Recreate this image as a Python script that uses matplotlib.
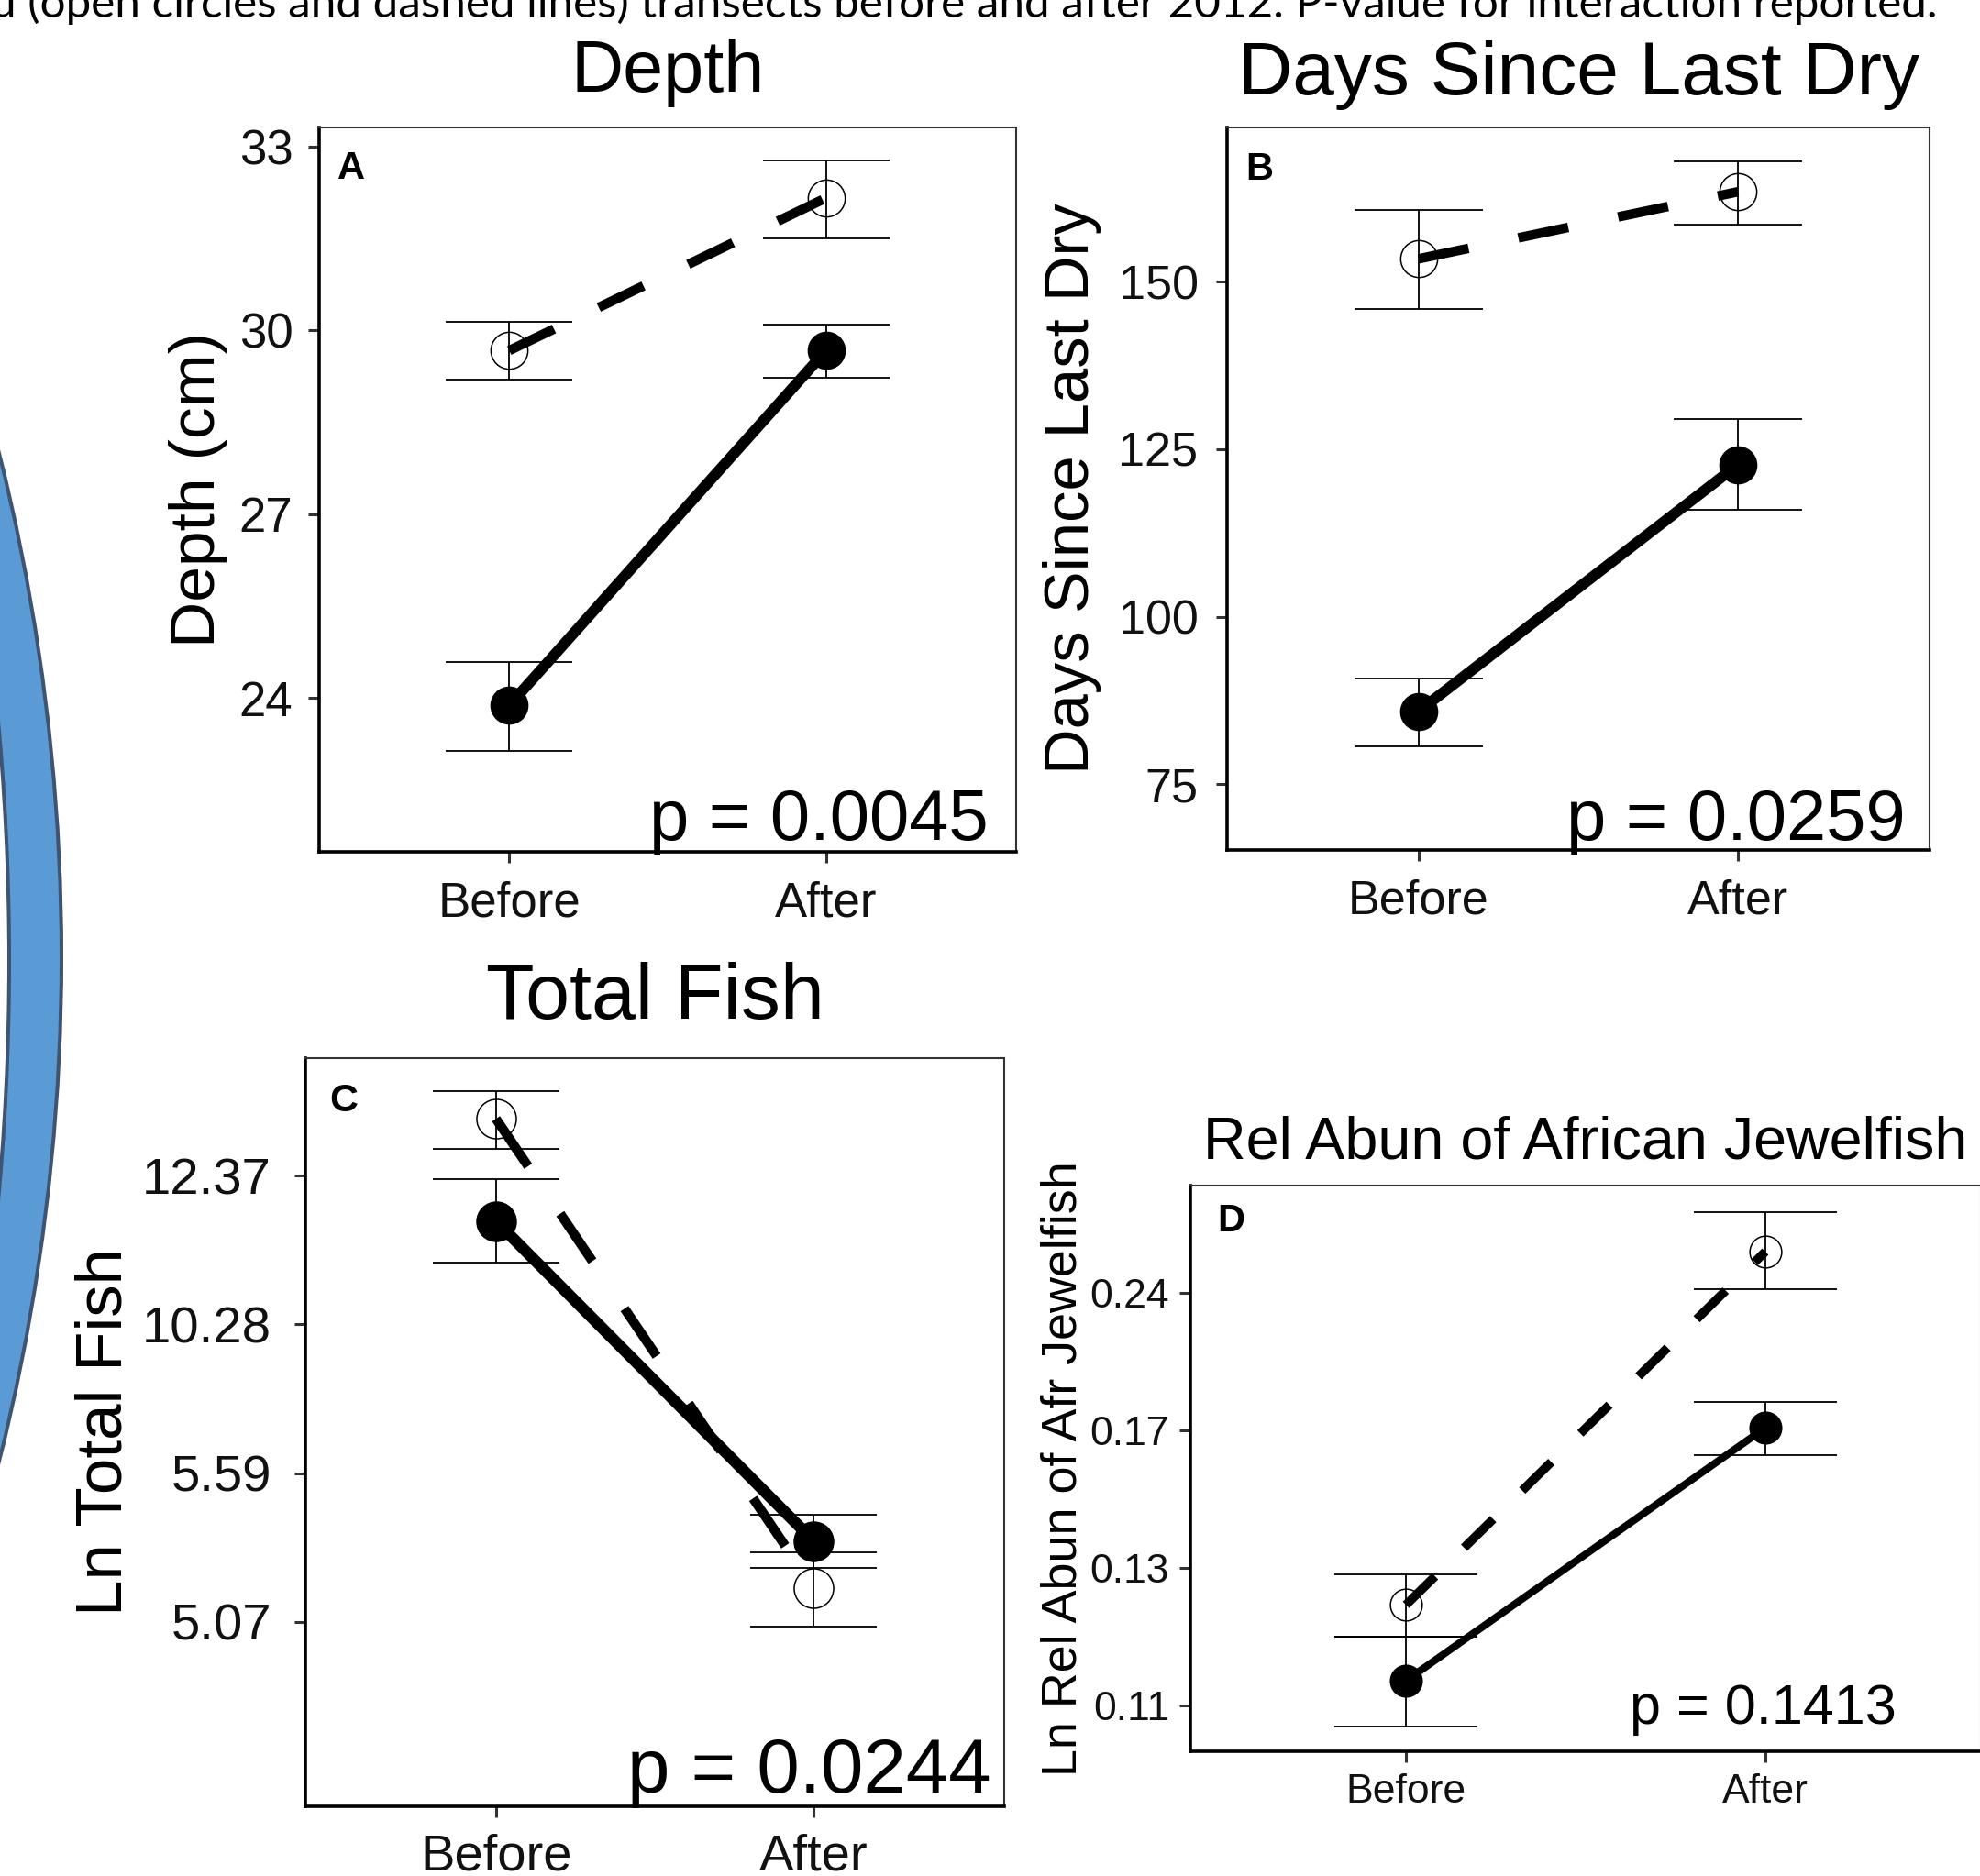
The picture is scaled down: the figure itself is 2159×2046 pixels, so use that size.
import matplotlib
matplotlib.use("Agg")
import matplotlib.pyplot as plt
from matplotlib.patches import Circle
import numpy as np

plt.rcParams["font.family"] = ["Liberation Sans", "DejaVu Sans"]
plt.rcParams["lines.scale_dashes"] = False

W, H, DPI = 2159, 2046, 100

caption = ("d (open circles and dashed lines) transects before and after 2012. "
           "P-value for interaction reported.")
periods = ["Before", "After"]

# A - depth (cm)
depth_solid = [23.88, 29.67]
depth_solid_lo = [23.14, 29.23]
depth_solid_hi = [24.58, 30.10]
depth_open = [29.67, 32.16]
depth_open_lo = [29.19, 31.50]
depth_open_hi = [30.14, 32.77]
depth_ticks = [24, 27, 30, 33]

# B - days since last dry
dry_solid = [85.9, 122.7]
dry_solid_lo = [80.6, 116.0]
dry_solid_hi = [90.8, 129.5]
dry_open = [153.4, 163.4]
dry_open_lo = [145.9, 158.5]
dry_open_hi = [160.7, 167.9]
dry_ticks = [75, 100, 125, 150]

# C - total fish (values in tick units, labels back-transformed)
fish_tick_labels = ["5.07", "5.59", "10.28", "12.37"]
fish_solid = [2.694, 0.544]
fish_solid_lo = [2.414, 0.365]
fish_solid_hi = [2.975, 0.722]
fish_open = [3.382, 0.229]
fish_open_lo = [3.178, -0.034]
fish_open_hi = [3.569, 0.467]

# D - rel abundance african jewelfish
jewel_tick_labels = ["0.11", "0.13", "0.17", "0.24"]
jewel_solid = [0.183, 2.02]
jewel_solid_lo = [-0.147, 1.82]
jewel_solid_hi = [0.505, 2.21]
jewel_open = [0.734, 3.30]
jewel_open_lo = [0.505, 3.03]
jewel_open_hi = [0.954, 3.59]


def pt(px):
    return px * 72 / DPI


def px_box(left, top, right, bottom):
    return [left / W, 1 - bottom / H, (right - left) / W, (bottom - top) / H]


def draw_panel(ax, solid, s_lo, s_hi, opn, o_lo, o_hi, st):
    x = np.arange(1, len(periods) + 1)
    for lo, hi in ((s_lo, s_hi), (o_lo, o_hi)):
        ax.vlines(x, lo, hi, color="black", lw=1.3, zorder=2)
        ax.hlines(lo, x - 0.2, x + 0.2, color="black", lw=1.3, zorder=2)
        ax.hlines(hi, x - 0.2, x + 0.2, color="black", lw=1.3, zorder=2)
    ax.plot(x, solid, color="black", lw=st["lw_solid"], solid_capstyle="butt", zorder=3)
    ax.plot(x, solid, "o", ms=st["ms"], mfc="black", mec="black", zorder=4)
    ax.plot(x, opn, color="black", lw=st["lw_dash"], dashes=(st["dash"], st["dash"]),
            dash_capstyle="butt", zorder=3)
    ax.plot(x, opn, "o", ms=st["ms"], mfc="none", mec="black", mew=1.1, zorder=4)

    ax.set_xlim(0.4, 2.6)
    ax.set_ylim(*st["ylim"])
    ax.set_xticks(x)
    ax.set_xticklabels(periods)
    for s in ("left", "bottom"):
        ax.spines[s].set_linewidth(2.6)
        ax.spines[s].set_color("black")
    for s in ("top", "right"):
        ax.spines[s].set_linewidth(1.5)
        ax.spines[s].set_color("#333333")
    ax.tick_params(length=8.6, width=2.2, color="#333333", labelsize=st["tick_fs"],
                   labelcolor="#111111")
    ax.tick_params(axis="y", pad=st["ypad"])
    ax.tick_params(axis="x", pad=st["xpad"])

    ax.set_title(st["title"], fontsize=st["title_fs"], pad=st["title_pad"])
    ax.set_ylabel(st["ylabel"], fontsize=st["ylabel_fs"])
    ax.yaxis.set_label_coords(st["ylabel_x"], 0.5)

    ax.annotate(st["letter"], xy=(0, 1), xycoords="axes fraction",
                xytext=(pt(st["letter_off"][0]), -pt(st["letter_off"][1])),
                textcoords="offset points", ha="left", va="baseline",
                fontsize=st["letter_fs"], fontweight="bold")
    ax.annotate(st["p"], xy=(1, 0), xycoords="axes fraction",
                xytext=(-pt(st["p_off"][0]), pt(st["p_off"][1])),
                textcoords="offset points", ha="right", va="baseline",
                fontsize=st["p_fs"])


fig = plt.figure(figsize=(W / DPI, H / DPI), dpi=DPI)

# slide decoration: blue crescent on the left edge
bg = fig.add_axes([0, 0, 1, 1], zorder=-1)
bg.set_xlim(0, W)
bg.set_ylim(H, 0)
bg.axis("off")
bg.add_patch(Circle((-2191, 1044), 2258, facecolor="#5B9BD5", edgecolor="#3F5470", lw=2.9))
bg.add_patch(Circle((-2851, 1048), 2861, facecolor="white", edgecolor="#3F5470", lw=2.9))

# caption line cut at the top of the slide
cap = fig.text(2113 / W, 1 - 19 / H, caption, ha="right", va="baseline",
               fontsize=38, family=["Lato", "DejaVu Sans"], color="black")
fig.canvas.draw()
cap.set_fontsize(38 * 2123 / cap.get_window_extent().width)

axA = fig.add_axes(px_box(348, 139, 1108, 929))
draw_panel(axA, depth_solid, depth_solid_lo, depth_solid_hi,
           depth_open, depth_open_lo, depth_open_hi,
           dict(ylim=(21.49, 33.31), lw_solid=8.5, lw_dash=7.5, dash=39, ms=29,
                tick_fs=38, ypad=12, xpad=14, title="Depth", title_fs=57, title_pad=28,
                ylabel="Depth (cm)", ylabel_fs=50, ylabel_x=-0.1316,
                letter="A", letter_off=(20, 56), letter_fs=30,
                p="p = 0.0045", p_off=(30, 13), p_fs=56))
axA.set_yticks(depth_ticks)

axB = fig.add_axes(px_box(1338, 139, 2104, 927))
draw_panel(axB, dry_solid, dry_solid_lo, dry_solid_hi,
           dry_open, dry_open_lo, dry_open_hi,
           dict(ylim=(65.2, 173.0), lw_solid=8.5, lw_dash=7.5, dash=40, ms=29,
                tick_fs=37.5, ypad=14, xpad=14, title="Days Since Last Dry", title_fs=59,
                title_pad=26, ylabel="Days Since Last Dry", ylabel_fs=49.5, ylabel_x=-0.179,
                letter="B", letter_off=(20, 57), letter_fs=30,
                p="p = 0.0259", p_off=(26, 11), p_fs=56))
axB.set_yticks(dry_ticks)

axC = fig.add_axes(px_box(333, 1154, 1095, 1970))
draw_panel(axC, fish_solid, fish_solid_lo, fish_solid_hi,
           fish_open, fish_open_lo, fish_open_hi,
           dict(ylim=(-1.24, 3.79), lw_solid=9, lw_dash=7.5, dash=45, ms=31,
                tick_fs=40.5, ypad=18, xpad=13, title="Total Fish", title_fs=62, title_pad=31,
                ylabel="Ln Total Fish", ylabel_fs=51, ylabel_x=-0.244,
                letter="C", letter_off=(26, 58), letter_fs=31,
                p="p = 0.0244", p_off=(14, 15), p_fs=60))
axC.set_yticks(range(len(fish_tick_labels)))
axC.set_yticklabels(fish_tick_labels)

axD = fig.add_axes(px_box(1298, 1293, 2160, 1910))
draw_panel(axD, jewel_solid, jewel_solid_lo, jewel_solid_hi,
           jewel_open, jewel_open_lo, jewel_open_hi,
           dict(ylim=(-0.33, 3.78), lw_solid=5.8, lw_dash=7, dash=32, ms=25,
                tick_fs=32, ypad=8, xpad=9, title="Rel Abun of African Jewelfish",
                title_fs=46.5, title_pad=21.6,
                ylabel="Ln Rel Abun of Afr Jewelfish", ylabel_fs=38.8, ylabel_x=-0.132,
                letter="D", letter_off=(29, 50), letter_fs=30,
                p="p = 0.1413", p_off=(92, 30), p_fs=44))
axD.set_yticks(range(len(jewel_tick_labels)))
axD.set_yticklabels(jewel_tick_labels)

fig.savefig("out.png", dpi=DPI)
